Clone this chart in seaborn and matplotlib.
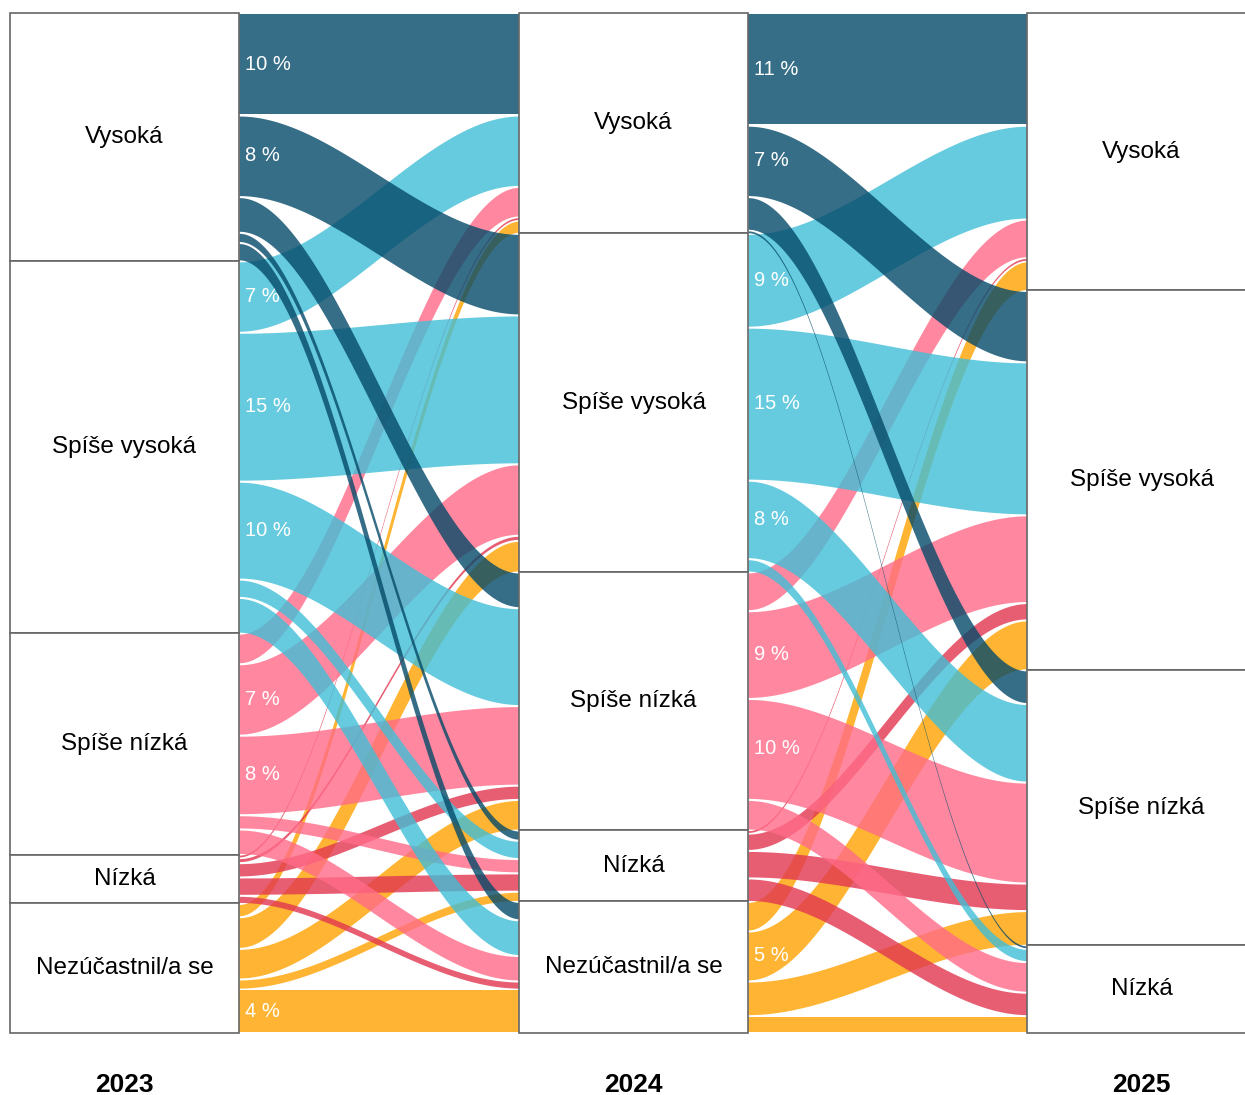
import numpy as np
import matplotlib
matplotlib.use("Agg")
import matplotlib.pyplot as plt
from matplotlib.patches import Rectangle
import seaborn as sns

# kategorie a roky
categories = ["Vysoká", "Spíše vysoká", "Spíše nízká", "Nízká", "Nezúčastnil/a se"]
categories_2025 = ["Vysoká", "Spíše vysoká", "Spíše nízká", "Nízká"]
years = ["2023", "2024", "2025"]

# podíly v % (řádek = kategorie v roce X, sloupec = kategorie v roce X+1)
flows_2023_2024 = [
    [10.0, 8.0, 3.5, 1.0, 1.8],
    [7.0, 14.6, 9.6, 1.8, 3.5],
    [3.0, 7.0, 7.8, 1.4, 2.5],
    [0.3, 0.5, 1.4, 1.8, 0.8],
    [1.3, 3.1, 3.0, 1.0, 4.3],
]
flows_2024_2025 = [
    [11.0, 7.0, 3.3, 0.3],
    [9.2, 15.0, 7.7, 1.3],
    [3.8, 8.6, 9.9, 3.0],
    [0.3, 1.7, 2.7, 2.3],
    [2.9, 4.9, 3.4, 1.7],
]

colors = ["#054a69", "#40bed6", "#ff6b88", "#e23650", "#ffa300"]
palette = sns.color_palette(colors)

sns.set_theme(style="white")
plt.rcParams["font.family"] = ["Liberation Sans", "DejaVu Sans"]

fig = plt.figure(figsize=(12.45, 10.95), dpi=100)
ax = fig.add_axes([0, 62 / 1095, 1, 1020 / 1095])
ax.set_xlim(0, 1245)
ax.set_ylim(100, 0)
ax.axis("off")

box_left = [10, 519, 1027]
box_w = 229

f1 = np.array(flows_2023_2024)
f2 = np.array(flows_2024_2025)
nodes = [f1.sum(axis=1), f1.sum(axis=0), f2.sum(axis=0)]
node_names = [categories, categories, categories_2025]


def draw_flows(flows, x0, x1, zstart):
    src_tot = flows.sum(axis=1)
    tgt_tot = flows.sum(axis=0)
    src_start = np.concatenate([[0], np.cumsum(src_tot)[:-1]])
    tgt_start = np.concatenate([[0], np.cumsum(tgt_tot)[:-1]])
    # pozice pásů u zdroje (řazeno podle cíle) a u cíle (řazeno podle zdroje)
    src_pos = src_start[:, None] + np.cumsum(flows, axis=1) - flows
    tgt_pos = tgt_start[None, :] + np.cumsum(flows, axis=0) - flows
    x = np.linspace(x0, x1, 300)
    u = (x - x0) / (x1 - x0)
    s = u * u * (3 - 2 * u)
    z = zstart
    for i in reversed(range(flows.shape[0])):
        for j in reversed(range(flows.shape[1])):
            v = flows[i, j]
            if v <= 0:
                continue
            top = src_pos[i, j] + (tgt_pos[i, j] - src_pos[i, j]) * s
            pad = min(0.1, v * 0.2)
            ax.fill_between(x, top + pad, top + v - pad, color=palette[i],
                            alpha=0.8, lw=0, zorder=z)
            if v >= 4:
                ax.text(x0 + 6, src_pos[i, j] + v / 2, f"{v:.0f} %",
                        color="white", fontsize=14.5, va="center", ha="left",
                        zorder=z + 0.5)
            z += 1
    return z


z = draw_flows(f1, box_left[0] + box_w, box_left[1], 1)
draw_flows(f2, box_left[1] + box_w, box_left[2], z)

for k, (tot, names) in enumerate(zip(nodes, node_names)):
    y = 0
    for name, h in zip(names, tot):
        ax.add_patch(Rectangle((box_left[k], y), box_w, h, facecolor="white",
                               edgecolor="#666666", lw=1.2, zorder=100,
                               clip_on=False))
        ax.text(box_left[k] + box_w / 2, y + h / 2, name, fontsize=17.5,
                ha="center", va="center", color="black", zorder=101)
        y += h
    ax.text(box_left[k] + box_w / 2, 105.1, years[k], fontsize=19,
            fontweight="bold", ha="center", va="center", color="black",
            clip_on=False)

fig.savefig("out.png", dpi=100, facecolor="white")
plt.close()
